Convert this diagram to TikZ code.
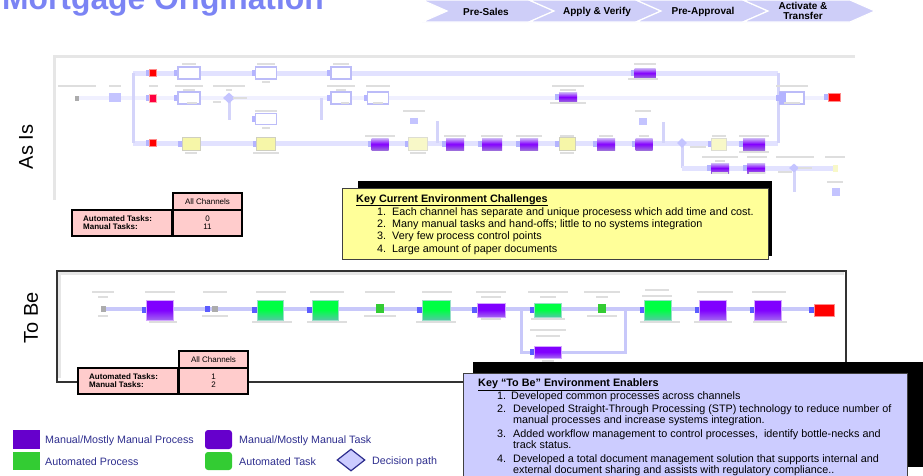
\documentclass[tikz,border=0pt]{standalone}
\usepackage{fontspec}
\setmainfont{Liberation Sans}
\usetikzlibrary{shapes.geometric,calc}

\definecolor{titleblue}{HTML}{7B84F4}
\definecolor{chev}{HTML}{CECEF8}
\definecolor{lanec}{HTML}{E2E2FF}
\definecolor{laneltc}{HTML}{F0F0FF}
\definecolor{lanevc}{HTML}{D4D4FA}
\definecolor{tipa}{HTML}{B4B4FF}
\definecolor{tipb}{HTML}{5C5CFF}
\definecolor{lblgray}{HTML}{DEDEDE}
\definecolor{frameg}{HTML}{E6E6E6}
\definecolor{keyyellow}{HTML}{FFFF99}
\definecolor{keylav}{HTML}{CCCCFF}
\definecolor{pinkcell}{HTML}{FFCCCC}
\definecolor{legpurple}{HTML}{6600CC}
\definecolor{leggreen}{HTML}{33CC33}
\definecolor{navy}{HTML}{2E2E8E}
\definecolor{boxlav}{HTML}{BCBCF8}
\definecolor{ylw}{HTML}{F6F6A8}
\definecolor{ylwpale}{HTML}{F8F8C8}
\definecolor{ylwedge}{HTML}{CFCFC0}
\definecolor{purtop}{HTML}{CDB8F6}
\definecolor{purmid}{HTML}{8400FF}
\definecolor{purbot}{HTML}{9C6CDC}
\definecolor{tbpur}{HTML}{8000FF}
\definecolor{tbpurbot}{HTML}{A266F0}
\definecolor{tbgreen}{HTML}{00FF44}
\definecolor{tbgreenbot}{HTML}{52C8A2}
\definecolor{declav}{HTML}{C4C4FF}
\definecolor{tblanec}{HTML}{C8C8FA}

\tikzset{
  lane/.style={draw=lanec, line width=5pt},
  lanelt/.style={draw=laneltc, line width=4pt},
  lanev/.style={draw=lanevc, line width=3pt},
  tblane/.style={draw=tblanec, line width=3.5pt},
  pbox/.style={rectangle, inner sep=0pt, outer sep=0pt},
  whitebox/.style={pbox, fill=white, draw=boxlav, line width=1.3pt},
  ylwbox/.style={pbox, fill=ylw, draw=ylwedge, line width=1pt},
  ylwpbox/.style={pbox, fill=ylwpale, draw=ylwedge!70, line width=1pt},
  purbox/.style={pbox, top color=purtop, bottom color=purbot, middle color=purmid},
  redbox/.style={pbox, fill=red, draw=red!45, line width=1pt},
  pinkbox/.style={pbox, fill=red!75!magenta, draw=red!30, line width=1pt},
  decn/.style={diamond, inner sep=0pt, fill=declav},
  lavsq/.style={pbox, fill=declav},
  graysq/.style={pbox, fill=gray!65},
  tpur/.style={pbox, top color=tbpur, bottom color=tbpurbot, middle color=tbpur, draw=tbpur!35, line width=1pt},
  tgreen/.style={pbox, top color=tbgreen, bottom color=tbgreenbot, middle color=tbgreen, draw=tbgreenbot!60, line width=1pt},
  chevlbl/.style={font=\fontsize{10}{10.5}\selectfont\bfseries, align=center, inner sep=0pt},
  cell/.style={draw=black, line width=1.2pt, fill=pinkcell, inner sep=0pt},
  celltxt/.style={font=\fontsize{8}{8.5}\selectfont, inner sep=0pt},
  cellhead/.style={font=\fontsize{8}{8.5}\selectfont\bfseries, inner sep=0pt, anchor=west},
  keytxt/.style={font=\fontsize{10.8}{12}\selectfont, anchor=base west, inner sep=0pt},
  keyhead/.style={font=\fontsize{10.8}{12}\selectfont\bfseries, anchor=base west, inner sep=0pt},
  legtxt/.style={font=\fontsize{10.7}{12}\selectfont, text=navy, anchor=west, inner sep=0pt},
  sidelbl/.style={font=\fontsize{20}{20}\selectfont, rotate=90, inner sep=0pt},
}

% process step with a small entry marker on its left
\newcommand{\an}[6]{%
  \fill[tipa] ({#3-#5/2-4},{#4-3}) rectangle ({#3-#5/2},{#4+3});
  \node[#2, minimum width=#5pt, minimum height=#6pt] (#1) at (#3,#4) {};}
\newcommand{\tn}[6]{%
  \fill[tipb] ({#3-#5/2-5},{#4-3}) rectangle ({#3-#5/2},{#4+3});
  \node[#2, minimum width=#5pt, minimum height=#6pt] (#1) at (#3,#4) {};}
% faint caption bar of a step
\newcommand{\gb}[3]{\fill[lblgray] ({#1-#3/2},{#2-1.1}) rectangle ({#1+#3/2},{#2+1.1});}

\begin{document}
\begin{tikzpicture}[x=1pt,y=-1pt]
\useasboundingbox (0,0) rectangle (923,475);
\clip (0,0) rectangle (923,475);

% ---------- title and phase chevrons ----------
\node[anchor=base west, inner sep=0pt, text=titleblue,
      font=\fontsize{31.8}{32}\selectfont\bfseries] (title) at (2,9.5) {Mortgage Origination};

\foreach \i in {0,1,2,3}{
  \fill[chev, draw=white, line width=1.2pt] ({422+107*\i},0) -- ++(107,0) -- ++(25,11)
     -- ++(-25,11) -- ++(-107,0) -- ++(25,-11) -- cycle;
}
\node[chevlbl] (ph1) at (486,12) {Pre-Sales};
\node[chevlbl] (ph2) at (597,12) {Apply \& Verify};
\node[chevlbl] (ph3) at (703,12) {Pre-Approval};
\node[chevlbl] (ph4) at (803,11) {Activate \&\\Transfer};

% ---------- As Is ----------
\node[sidelbl] (asis) at (26,147) {As Is};
\draw[frameg, line width=3pt] (855,56) -- (54,56) -- (54,200);

\coordinate (L1w) at (133,73);  \coordinate (L1e) at (778,73);
\coordinate (L3w) at (133,143); \coordinate (L3e) at (778,143);
\coordinate (L2w) at (77,98);   \coordinate (L2e) at (836,98);
\coordinate (L4n) at (682,143); \coordinate (L4c) at (682,168); \coordinate (L4e) at (838,168);
\coordinate (v1a) at (229,98);  \coordinate (v1b) at (229,120);
\coordinate (v2a) at (321,98);  \coordinate (v2b) at (321,120);
\coordinate (v3a) at (437,121); \coordinate (v3b) at (437,143);
\coordinate (v4a) at (663,122); \coordinate (v4b) at (663,143);
\coordinate (v5a) at (794,168); \coordinate (v5b) at (794,192);

\draw[lanelt] (L2w) -- (L2e);
\draw[lane] (L1w) -- (L1e);
\draw[lane] (L3w) -- (L3e);
\draw[lanev] (L1w) -- (L3w);
\draw[lanev] (L1e) -- (L3e);
\draw[lanev] (L4n) -- (L4c);
\draw[lane] (L4c) -- (L4e);
\draw[lanev] (v1a) -- (v1b);
\draw[lanev] (v2a) -- (v2b);
\draw[lanev] (v3a) -- (v3b);
\draw[lanev] (v4a) -- (v4b);
\draw[lanev] (v5a) -- (v5b);

% lane 1
\an{a1}{redbox}{153}{73}{7}{7}
\an{a2}{whitebox}{189}{73}{22}{12}
\an{a3}{whitebox}{266}{73}{21}{12}
\an{a4}{whitebox}{341}{73}{20}{12}
\an{a5}{purbox}{645}{73}{21}{10}
% lane 2
\node[graysq, minimum width=4pt, minimum height=5pt] (b0) at (77,98) {};
\node[lavsq, minimum width=12pt, minimum height=9pt] (b1) at (115,97) {};
\an{b2}{pinkbox}{153}{98}{7}{8}
\an{b3}{whitebox}{189}{98}{22}{12}
\node[decn, minimum width=12pt, minimum height=11pt] (b4) at (229,98) {};
\an{b5}{whitebox}{341}{98}{20}{12}
\an{b6}{whitebox}{378}{98}{21}{12}
\an{b7}{purbox}{568}{97}{18}{10}
\an{b8}{whitebox}{792}{98}{24}{12}
\fill[tipa] (779,92) rectangle (786,104);
\an{b9}{redbox}{834}{97}{12}{8}
% between lanes
\an{c1}{whitebox}{266}{119}{21}{11}
\node[lavsq, minimum width=8pt, minimum height=7pt] (c2) at (643,121) {};
\node[lavsq, minimum width=8pt, minimum height=6pt] (c3) at (414,121) {};
% lane 3
\an{d1}{redbox}{153}{143}{7}{7}
\an{d2}{ylwbox}{191}{144}{18}{13}
\an{d3}{ylwbox}{266}{144}{19}{13}
\an{d4}{purbox}{380}{144}{17}{12}
\an{d5}{ylwpbox}{418}{144}{19}{13}
\an{d6}{purbox}{455}{144}{18}{12}
\an{d7}{purbox}{492}{144}{20}{12}
\an{d8}{purbox}{529}{144}{18}{12}
\an{d9}{ylwbox}{567}{144}{16}{13}
\an{d10}{purbox}{606}{144}{18}{12}
\an{d11}{purbox}{644}{144}{17}{12}
\node[decn, minimum width=10pt, minimum height=10pt] (d12) at (682,143) {};
\an{d13}{ylwpbox}{719}{144}{15}{12}
\an{d14}{purbox}{754}{144}{22}{12}
% lane 4
\an{e1}{purbox}{720}{168}{18}{10}
\an{e2}{purbox}{756}{168}{18}{10}
\node[decn, minimum width=10pt, minimum height=9pt] (e3) at (794,168) {};
\node[pbox, fill=ylwpale, minimum width=5pt, minimum height=7pt] (e4) at (835,168) {};
\node[lavsq, minimum width=8pt, minimum height=8pt] (e5) at (836,192) {};

% step captions
\gb{189}{64}{14} \gb{266}{64}{18} \gb{341}{64}{16} \gb{645}{64}{22}
\gb{266}{82}{8} \gb{643}{79}{30}
\gb{77}{86}{38} \gb{115}{86}{12} \gb{153}{86}{9}
\gb{189}{86}{28} \gb{189}{90}{12} \gb{192}{103}{10}
\gb{229}{86}{32} \gb{229}{90}{6} \gb{217}{102}{8} \gb{240}{98}{14}
\gb{341}{86}{28} \gb{341}{90}{10} \gb{345}{103}{8}
\gb{378}{86}{24} \gb{378}{103}{10}
\gb{568}{86}{32} \gb{568}{90}{16} \gb{568}{103}{36}
\gb{792}{86}{32} \gb{792}{103}{16}
\gb{266}{111}{22} \gb{266}{128}{8} \gb{643}{111}{16} \gb{414}{111}{22}
\gb{191}{153}{12} \gb{266}{153}{26}
\gb{380}{136}{30} \gb{418}{153}{16}
\gb{455}{136}{22} \gb{492}{136}{22} \gb{529}{136}{26}
\gb{567}{136}{14} \gb{567}{153}{14} \gb{606}{136}{14} \gb{644}{136}{10}
\gb{698}{147}{16} \gb{719}{136}{14} \gb{754}{136}{30} \gb{754}{152}{30}
\gb{720}{157}{36} \gb{720}{161}{10} \gb{720}{173}{16}
\gb{757}{157}{20} \gb{757}{173}{16}
\gb{795}{157}{38} \gb{785}{172}{14} \gb{805}{168}{14}
\gb{835}{157}{20} \gb{835}{182}{16}

% As Is task counts
\node[cell, minimum width=69pt, minimum height=17pt] (h1) at (207.5,201.5) {};
\node[cell, minimum width=100pt, minimum height=26pt] (l1) at (122,223) {};
\node[cell, minimum width=69pt, minimum height=26pt] (c1v) at (207.5,223) {};
\node[celltxt] at (h1.center) {All Channels};
\node[cellhead] (l1a) at (83,219) {Automated Tasks:};
\node[cellhead] (l1b) at (83,227) {Manual Tasks:};
\node[celltxt] (v1a) at (207.5,219) {0};
\node[celltxt] (v1b) at (207.5,227) {11};

% challenges
\fill[black] (358,181) rectangle (772,256);
\node[pbox, draw=black!75, line width=1pt, fill=keyyellow, minimum width=426pt, minimum height=71pt] (kc) at (555,223.5) {};
\node[keyhead] (kch) at (356,202) {\underline{Key Current Environment Challenges}};
\node[keytxt] at (377,215.5) {1.};
\node[keytxt] at (392,215.5) {Each channel has separate and unique procesess which add time and cost.};
\node[keytxt] at (377,227.5) {2.};
\node[keytxt] at (392,227.5) {Many manual tasks and hand-offs; little to no systems integration};
\node[keytxt] at (377,239.5) {3.};
\node[keytxt] at (392,239.5) {Very few process control points};
\node[keytxt] at (377,252.5) {4.};
\node[keytxt] at (392,252.5) {Large amount of paper documents};

% ---------- To Be ----------
\node[sidelbl] (tobe) at (31,318) {To Be};
\draw[black!80, line width=1.3pt] (57,271) rectangle (846,382);
\draw[frameg, line width=2.5pt] (59.5,378) -- (59.5,273.5) -- (844,273.5);

\coordinate (Tw) at (103,309); \coordinate (Te) at (824,309);
\coordinate (lp1) at (521,309); \coordinate (lp2) at (521,352);
\coordinate (lp3) at (625,352); \coordinate (lp4) at (625,309);
\draw[tblane] (Tw) -- (Te);
\draw[tblane, line width=3pt] (lp1) -- (lp2) -- (lp3) -- (lp4);

\node[graysq, minimum width=5pt, minimum height=6pt] (t0) at (103,309) {};
\tn{t1}{tpur}{160}{310}{27}{20}
\fill[tipb] (205,306) rectangle (210,312);
\node[graysq, minimum width=6pt, minimum height=6pt] (t2) at (215,309) {};
\tn{t3}{tgreen}{270}{310}{26}{20}
\tn{t4}{tgreen}{325}{310}{26}{20}
\node[pbox, fill=leggreen, minimum width=8pt, minimum height=9pt] (t5) at (380,308) {};
\tn{t6}{tgreen}{436}{310}{28}{20}
\tn{t7}{tpur}{491}{310}{28}{14}
\tn{t8}{tgreen}{548}{310}{27}{14}
\node[pbox, fill=leggreen, minimum width=8pt, minimum height=9pt] (t9) at (602,308) {};
\tn{t10}{tgreen}{658}{310}{27}{20}
\tn{t11}{tpur}{713}{310}{27}{20}
\tn{t12}{tpur}{768}{310}{27}{20}
\tn{t13}{redbox}{824}{310}{20}{12}
\tn{t14}{tpur}{548}{352}{27}{12}

\gb{103}{292}{22} \gb{103}{297}{10} \gb{103}{316}{10}
\gb{160}{292}{30} \gb{163}{322}{28}
\gb{215}{292}{24} \gb{215}{316}{26}
\gb{271}{292}{30} \gb{272}{322}{40}
\gb{327}{292}{34} \gb{327}{322}{40}
\gb{380}{292}{30} \gb{380}{316}{32}
\gb{437}{292}{30} \gb{436}{322}{40}
\gb{491}{292}{30} \gb{491}{297}{20} \gb{491}{319}{20}
\gb{548}{292}{40} \gb{548}{297}{16} \gb{548}{319}{34}
\gb{602}{292}{36} \gb{602}{297}{12} \gb{602}{316}{30}
\gb{657}{290}{24} \gb{657}{296}{30} \gb{660}{322}{40}
\gb{715}{292}{36} \gb{713}{322}{38}
\gb{769}{292}{34} \gb{770}{322}{34}
\gb{548}{330}{36} \gb{548}{336}{24} \gb{548}{361}{12}

% To Be task counts
\node[cell, minimum width=69pt, minimum height=17pt] (h2) at (213.5,359.5) {};
\node[cell, minimum width=100pt, minimum height=26pt] (l2) at (128,381) {};
\node[cell, minimum width=69pt, minimum height=26pt] (c2v) at (213.5,381) {};
\node[celltxt] at (h2.center) {All Channels};
\node[cellhead] (l2a) at (89,377) {Automated Tasks:};
\node[cellhead] (l2b) at (89,385) {Manual Tasks:};
\node[celltxt] (v2a) at (213.5,377) {1};
\node[celltxt] (v2b) at (213.5,385) {2};

% enablers
\fill[black] (473,362) rectangle (923,467);
\node[pbox, draw=black!75, line width=1pt, fill=keylav, minimum width=444pt, minimum height=112pt, anchor=north west] (ke) at (463,373) {};
\node[keyhead] (keh) at (478,386.5) {\underline{Key “To Be” Environment Enablers}};
\node[keytxt] at (497,399.5) {1.};
\node[keytxt] at (511,399.5) {Developed common processes across channels};
\node[keytxt] at (497,412.5) {2.};
\node[keytxt] at (513,412.5) {Developed Straight-Through Processing (STP) technology to reduce number of};
\node[keytxt] at (513,423.5) {manual processes and increase systems integration.};
\node[keytxt] at (497,437.5) {3.};
\node[keytxt] at (513,437.5) {Added workflow management to control processes,\ \ identify bottle-necks and};
\node[keytxt] at (513,448.5) {track status.};
\node[keytxt] at (497,462.5) {4.};
\node[keytxt] at (513,462.5) {Developed a total document management solution that supports internal and};
\node[keytxt] at (513,473.5) {external document sharing and assists with regulatory compliance..};

% ---------- legend ----------
\node[pbox, fill=legpurple, minimum width=27pt, minimum height=19pt] (lg1) at (26.5,439.5) {};
\node[pbox, fill=leggreen, minimum width=27pt, minimum height=18pt] (lg2) at (26.5,461) {};
\node[pbox, fill=legpurple, rounded corners=3pt, minimum width=27pt, minimum height=19pt] (lg3) at (218.5,439.5) {};
\node[pbox, fill=leggreen, rounded corners=3pt, minimum width=27pt, minimum height=18pt] (lg4) at (218.5,461) {};
\node[diamond, inner sep=0pt, fill=keylav, draw=navy, line width=1.2pt, minimum width=28pt, minimum height=22pt] (lg5) at (351,460) {};
\node[legtxt] at (45,441) {Manual/Mostly Manual Process};
\node[legtxt] at (45,462) {Automated Process};
\node[legtxt] at (239,441) {Manual/Mostly Manual Task};
\node[legtxt] at (239,462) {Automated Task};
\node[legtxt] at (372,462) {Decision path};
\end{tikzpicture}
\end{document}
